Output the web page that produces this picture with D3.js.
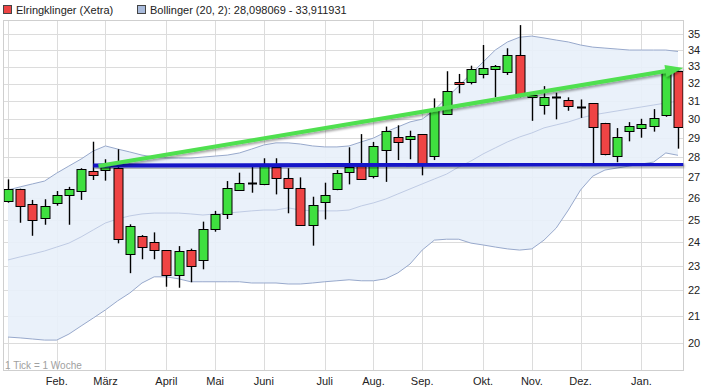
<!DOCTYPE html>
<html><head><meta charset="utf-8">
<script src="https://cdn.jsdelivr.net/npm/d3@7/dist/d3.min.js"></script>
<style>
body{margin:0;background:#fff}
svg{display:block}
text{font-family:"Liberation Sans",Arial,sans-serif}
</style>
</head><body>
<svg id="chart" width="711" height="392"></svg>
<script>
const weekStarts = ["2012-12-31","2013-01-07","2013-01-14","2013-01-21","2013-01-28","2013-02-04","2013-02-11","2013-02-18",
"2013-02-25","2013-03-04","2013-03-11","2013-03-18","2013-03-25","2013-04-01","2013-04-08","2013-04-15","2013-04-22",
"2013-04-29","2013-05-06","2013-05-13","2013-05-20","2013-05-27","2013-06-03","2013-06-10","2013-06-17","2013-06-24",
"2013-07-01","2013-07-08","2013-07-15","2013-07-22","2013-07-29","2013-08-05","2013-08-12","2013-08-19","2013-08-26",
"2013-09-02","2013-09-09","2013-09-16","2013-09-23","2013-09-30","2013-10-07","2013-10-14","2013-10-21","2013-10-28",
"2013-11-04","2013-11-11","2013-11-18","2013-11-25","2013-12-02","2013-12-09","2013-12-16","2013-12-23","2013-12-30",
"2014-01-06","2014-01-13","2014-01-20"];

const openVals = [25.88,26.43,25.72,25.10,25.76,26.14,26.33,27.29,27.34,27.48,
23.49,24.29,24.00,23.66,22.62,23.67,23.25,24.58,25.25,26.41,
26.74,26.66,27.51,26.98,26.47,24.76,25.82,26.43,27.25,27.56,
27.05,28.37,29.03,28.96,29.19,28.05,30.28,32.09,32.07,32.56,
32.84,32.66,33.69,31.21,30.76,31.23,31.06,30.69,30.87,29.77,
28.06,29.35,29.51,29.62,30.24,32.74];
const highVals = [26.90,26.45,25.92,25.95,26.34,26.54,27.45,28.80,27.90,28.41,
24.80,24.32,24.44,23.67,23.84,23.73,24.92,25.41,26.82,27.23,
27.56,27.95,27.95,27.45,27.00,26.07,26.74,27.36,28.51,29.20,
28.79,29.60,29.67,29.38,29.20,31.15,32.72,32.56,33.05,34.31,
33.09,34.11,35.57,31.36,31.85,31.47,31.21,31.09,30.88,29.80,
29.52,29.84,30.02,30.55,32.68,32.76];
const lowVals = [25.79,24.87,24.29,24.78,25.65,24.78,25.92,26.87,26.84,23.96,
22.70,23.28,23.28,22.15,22.11,22.33,22.86,24.47,25.04,26.34,
26.26,26.62,26.18,25.30,24.74,23.86,25.02,26.38,26.66,26.87,
26.95,26.78,27.86,27.90,27.10,27.86,30.23,31.44,31.95,32.30,
31.21,32.50,31.21,29.91,30.25,29.99,30.46,30.07,27.70,28.10,
27.75,28.82,29.01,29.33,30.13,28.44];
const closeVals = [26.43,25.63,24.98,25.63,26.17,26.43,27.40,27.14,27.56,24.13,
24.74,23.79,23.66,22.62,23.62,23.00,24.58,25.26,26.47,26.71,
26.74,27.67,26.95,26.47,24.76,25.67,26.14,27.20,27.51,26.90,
28.60,29.35,28.78,29.08,27.65,30.50,31.55,31.97,32.84,32.90,
33.01,33.69,31.40,31.34,31.25,31.23,30.71,30.69,29.60,28.18,
29.03,29.62,29.72,30.04,32.66,29.57];

const bbUpper = [26.39,26.54,26.68,26.82,27.21,27.56,27.91,28.32,28.58,28.42,
28.27,28.11,28.01,27.96,27.96,27.96,28.01,28.06,28.11,28.22,
28.42,28.63,28.74,28.74,28.68,28.58,28.53,28.53,28.58,28.79,
28.99,29.31,29.58,29.85,30.00,30.50,31.17,31.86,32.56,33.27,
34.00,34.50,34.80,34.87,34.75,34.62,34.50,34.31,34.18,34.12,
34.06,34.00,34.00,34.00,34.00,33.91];
const bbMiddle = [23.25,23.38,23.50,23.63,23.80,23.97,24.24,24.55,24.86,25.04,
25.18,25.27,25.31,25.31,25.31,25.27,25.22,25.27,25.31,25.36,
25.41,25.45,25.45,25.55,25.45,25.41,25.41,25.41,25.45,25.64,
25.78,25.96,26.20,26.44,26.68,26.92,27.16,27.51,27.81,28.17,
28.48,28.79,29.05,29.26,29.53,29.69,29.85,30.06,30.23,30.34,
30.45,30.56,30.67,30.78,30.89,31.00];
const bbLower = [20.22,20.19,20.15,20.11,20.11,20.33,20.63,20.93,21.24,21.59,
21.90,22.30,22.55,22.55,22.47,22.35,22.35,22.35,22.35,22.35,
22.30,22.30,22.30,22.26,22.26,22.30,22.35,22.39,22.43,22.39,
22.39,22.47,22.71,23.08,23.67,24.10,24.14,24.14,23.97,23.89,
23.80,23.72,23.67,23.72,24.10,24.63,25.45,26.39,27.06,27.36,
27.46,27.56,27.66,27.76,28.22,28.10];

const yTicks = [20,21,22,23,24,25,26,27,28,29,30,31,32,33,34,35];
const monthTickDates = ["2012-12-31","2013-01-28","2013-02-25","2013-04-01","2013-04-29","2013-05-27","2013-07-01",
"2013-07-29","2013-08-26","2013-09-30","2013-10-28","2013-11-25","2013-12-30"];
const monthLabels = ["","Feb.","März","April","Mai","Juni","Juli","Aug.","Sep.","Okt.","Nov.","Dez.","Jan."];

const trendGreenDates = ["2013-02-21","2014-01-23"];
const trendGreenValues = [27.56,32.91];
const trendBlueDates = ["2013-02-18","2014-01-23"];
const trendBlueValues = [27.58,27.66];

const legendLabels = ["Elringklinger (Xetra)","Bollinger (20, 2): 28,098069 - 33,911931"];
const footNote = "1 Tick = 1 Woche";

// ---------------------------------------------
const parse = d3.utcParse("%Y-%m-%d");
const dates = weekStarts.map(parse);
const WEEK = 7*864e5;
const pad = 0.41;
const plot = {l:3, r:683, t:20, b:370};

const x = d3.scaleUtc()
  .domain([new Date(+dates[0] - pad*WEEK), new Date(+dates[dates.length-1] + pad*WEEK)])
  .range([plot.l, plot.r]);
const y = d3.scaleLog().domain([19.05, 35.9]).range([plot.b, plot.t]);

const data = dates.map((d,i)=>({d, o:openVals[i], h:highVals[i], l:lowVals[i], c:closeVals[i],
  up:bbUpper[i], mid:bbMiddle[i], lo:bbLower[i]}));

const svg = d3.select("#chart");
const defs = svg.append("defs");
const f = defs.append("filter").attr("id","shadow").attr("x","-5%").attr("y","-50%").attr("width","110%").attr("height","300%");
f.append("feDropShadow").attr("dx",1).attr("dy",2).attr("stdDeviation",1.3).attr("flood-color","#000").attr("flood-opacity",0.35);
defs.append("clipPath").attr("id","clip").append("rect")
  .attr("x",plot.l).attr("y",plot.t).attr("width",plot.r-plot.l).attr("height",plot.b-plot.t);

// grid
const grid = svg.append("g").attr("shape-rendering","crispEdges");
grid.selectAll("line.h").data(yTicks).join("line").attr("class","h")
  .attr("x1",plot.l).attr("x2",plot.r)
  .attr("y1",d=>Math.round(y(d))+0.5).attr("y2",d=>Math.round(y(d))+0.5)
  .attr("stroke","#dcdcdc");
grid.selectAll("line.v").data(monthTickDates.map(parse)).join("line").attr("class","v")
  .attr("y1",plot.t).attr("y2",plot.b)
  .attr("x1",d=>Math.round(x(d))+0.5).attr("x2",d=>Math.round(x(d))+0.5)
  .attr("stroke","#dcdcdc");

// Bollinger band
const g = svg.append("g").attr("clip-path","url(#clip)");
g.append("path").datum(data)
  .attr("d", d3.area().x(d=>x(d.d)).y0(d=>y(d.lo)).y1(d=>y(d.up)))
  .attr("fill","#e8eff9").attr("fill-opacity",0.9);
g.append("path").datum(data)
  .attr("d", d3.line().x(d=>x(d.d)).y(d=>y(d.mid)))
  .attr("fill","none").attr("stroke","#bfcbe4").attr("stroke-width",1);
["up","lo"].forEach(k=>{
  g.append("path").datum(data)
    .attr("d", d3.line().x(d=>x(d.d)).y(d=>y(d[k])))
    .attr("fill","none").attr("stroke","#98a9cc").attr("stroke-width",1);
});

// frame
svg.append("rect").attr("x",plot.l+0.5).attr("y",plot.t+0.5)
  .attr("width",plot.r-plot.l).attr("height",plot.b-plot.t)
  .attr("fill","none").attr("stroke","#cfcfcf").attr("shape-rendering","crispEdges");

// candles
const bw = 9;
const cg = g.append("g");
const cand = cg.selectAll("g").data(data).join("g");
cand.append("line")
  .attr("x1",d=>Math.round(x(d.d))+0.5).attr("x2",d=>Math.round(x(d.d))+0.5)
  .attr("y1",d=>y(d.h)).attr("y2",d=>y(d.l))
  .attr("stroke","#000").attr("stroke-width",1.4);
cand.filter(d=>d.o!==d.c).append("rect")
  .attr("x",d=>Math.round(x(d.d))-bw/2+0.5)
  .attr("y",d=>Math.round(y(Math.max(d.o,d.c)))+0.5)
  .attr("width",bw)
  .attr("height",d=>Math.max(1,Math.round(y(Math.min(d.o,d.c)))-Math.round(y(Math.max(d.o,d.c)))))
  .attr("fill",d=>d.c>d.o?"#3fe03f":"#ef4444")
  .attr("stroke","#000").attr("stroke-width",1);
cand.filter(d=>d.o===d.c).append("line")
  .attr("x1",d=>Math.round(x(d.d))-bw/2+0.5).attr("x2",d=>Math.round(x(d.d))+bw/2+0.5)
  .attr("y1",d=>Math.round(y(d.o))+0.5).attr("y2",d=>Math.round(y(d.o))+0.5)
  .attr("stroke","#000").attr("stroke-width",2);

// trend lines
const tg = svg.append("g");
const bluePts = trendBlueDates.map((d,i)=>[x(parse(d)), y(trendBlueValues[i])]);
tg.append("path").attr("d", d3.line()(bluePts))
  .attr("stroke","#1515c8").attr("stroke-width",4).attr("fill","none").attr("filter","url(#shadow)");
const greenPts = trendGreenDates.map((d,i)=>[x(parse(d)), y(trendGreenValues[i])]);
const [gx0,gy0] = greenPts[0], [gx1,gy1] = greenPts[1];
const ang = Math.atan2(gy1-gy0, gx1-gx0);
const headLen = 18, headW = 6;
const bx = gx1 - headLen*Math.cos(ang), by = gy1 - headLen*Math.sin(ang);
const greenG = tg.append("g").attr("filter","url(#shadow)");
greenG.append("path").attr("d", d3.line()([[gx0,gy0],[bx+2*Math.cos(ang),by+2*Math.sin(ang)]]))
  .attr("stroke","#4fe04f").attr("stroke-width",4).attr("fill","none");
const px = -Math.sin(ang), py = Math.cos(ang);
greenG.append("path")
  .attr("d", d3.line()([[gx1,gy1],[bx+headW*px,by+headW*py],[bx-headW*px,by-headW*py]])+"Z")
  .attr("fill","#4fe04f");

// y axis labels
svg.append("g").selectAll("text").data(yTicks).join("text")
  .attr("x",688).attr("y",d=>y(d)).attr("dy","0.35em")
  .attr("font-size",11).attr("fill","#222").text(d=>d);

// x labels
svg.append("g").selectAll("text").data(monthTickDates.map(parse)).join("text")
  .attr("x",d=>x(d)).attr("y",385).attr("text-anchor","middle")
  .attr("font-size",11).attr("fill","#222").text((d,i)=>monthLabels[i]);

// footnote
svg.append("text").attr("x",5).attr("y",369).attr("font-size",10).attr("fill","#a0a0a0").text(footNote);

// legend
const lg = svg.append("g");
lg.append("rect").attr("x",3.5).attr("y",5.5).attr("width",8).attr("height",8)
  .attr("fill","#ee4444").attr("stroke","#444");
lg.append("text").attr("x",16).attr("y",14).attr("font-size",11).attr("fill","#222").text(legendLabels[0]);
lg.append("rect").attr("x",137.5).attr("y",5.5).attr("width",8).attr("height",8)
  .attr("fill","#a9bbdc").attr("stroke","#444");
lg.append("text").attr("x",150).attr("y",14).attr("font-size",11).attr("fill","#222").text(legendLabels[1]);
</script>
</body></html>
